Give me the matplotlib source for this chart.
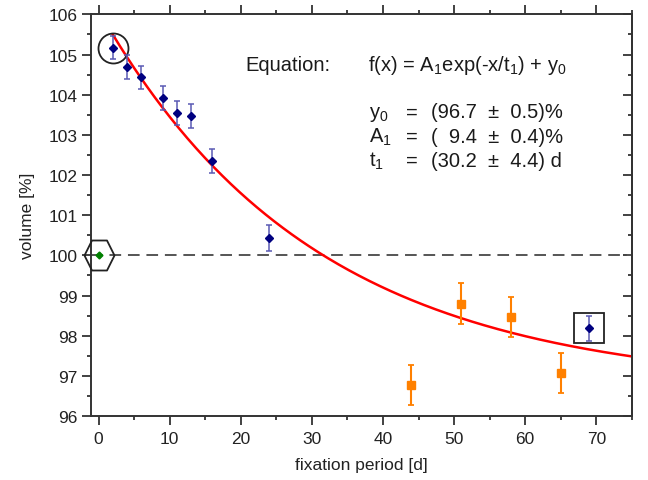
import numpy as np
import matplotlib
matplotlib.use("Agg")
import matplotlib.pyplot as plt
from matplotlib.ticker import MultipleLocator

plt.rcParams['font.family'] = ['Liberation Sans', 'DejaVu Sans']
plt.rcParams['mathtext.default'] = 'regular'

# measured volumes (blue diamonds)
days_blue = [2, 4, 6, 9, 11, 13, 16, 24, 69]
vol_blue = [105.17, 104.69, 104.43, 103.92, 103.54, 103.48, 102.35, 100.43, 98.18]
err_blue = [0.29, 0.30, 0.29, 0.30, 0.30, 0.30, 0.31, 0.32, 0.31]

# orange squares
days_orange = [44, 51, 58, 65]
vol_orange = [96.78, 98.80, 98.47, 97.07]
err_orange = [0.50, 0.50, 0.50, 0.50]

# reference point
day_ref = [0]
vol_ref = [100.0]

# fit parameters f(x) = A1*exp(-x/t1) + y0
y0, A1, t1 = 96.7, 9.4, 30.2

W, H = 648, 481
fig = plt.figure(figsize=(W / 100, H / 100), dpi=100)
ax = fig.add_axes([0.1404, 0.133, 0.8346, 0.835])

ax.axhline(100, color='#555555', lw=1.4, ls=(0, (6, 3.5)), zorder=1)

xf = np.linspace(2, 75, 300)
ax.plot(xf, A1 * np.exp(-xf / t1) + y0, color='#ff0000', lw=1.8, zorder=2)

ax.errorbar(days_blue, vol_blue, yerr=err_blue, fmt='D', color='#000080',
            ms=4, ecolor='#5a5ab4', elinewidth=1.1, capsize=2.2, capthick=1.1, zorder=4)
ax.errorbar(days_orange, vol_orange, yerr=err_orange, fmt='s', color='#ff8000',
            ms=5.4, ecolor='#ff8000', elinewidth=1.5, capsize=2.5, capthick=1.3, zorder=4)
ax.plot(day_ref, vol_ref, 'D', color='#008000', ms=3.5, zorder=5, clip_on=False)

# highlight marks around selected points
hexv = [(-1, 0), (-0.5, 1), (0.5, 1), (1, 0), (0.5, -1), (-0.5, -1), (-1, 0)]
ax.plot(day_ref, vol_ref, marker=hexv, ms=21.6, mfc='none', mec='#222222', mew=1.3,
        ls='none', clip_on=False, zorder=5)
ax.plot(days_blue[0], vol_blue[0], marker='o', ms=21.6, mfc='none', mec='#222222', mew=1.3)
ax.plot(days_blue[-1], vol_blue[-1], marker='s', ms=21.4, mfc='none', mec='#222222', mew=1.3)

ax.set_xlim(-1.07, 75)
ax.set_ylim(96, 106)
ax.xaxis.set_major_locator(MultipleLocator(10))
ax.xaxis.set_minor_locator(MultipleLocator(5))
ax.yaxis.set_major_locator(MultipleLocator(1))
ax.yaxis.set_minor_locator(MultipleLocator(0.5))

for s in ax.spines.values():
    s.set_color('#333333')
    s.set_linewidth(1.4)

ax.tick_params(axis='x', which='both', direction='out', top=True, colors='#333333',
               labelcolor='#222222', labelsize=12.5, width=1.3, pad=4.5)
ax.tick_params(axis='y', which='both', direction='out', colors='#333333',
               labelcolor='#222222', labelsize=12.5, width=1.3, pad=3)
ax.tick_params(which='major', length=6.5)
ax.tick_params(which='minor', length=3)

sec = ax.secondary_yaxis('right')
sec.yaxis.set_major_locator(MultipleLocator(1))
sec.yaxis.set_minor_locator(MultipleLocator(0.5))
sec.tick_params(which='both', direction='in', labelright=False, colors='#333333', width=1.3)
sec.tick_params(which='major', length=6.5)
sec.tick_params(which='minor', length=3)
sec.spines['right'].set_color('#333333')
sec.spines['right'].set_linewidth(1.4)

ax.set_xlabel('fixation period [d]', fontsize=12.5, color='#222222', labelpad=8)
ax.set_ylabel('volume [%]', fontsize=12.5, color='#222222', labelpad=10)

# equation box text, placed in figure pixels (x, baseline y from top)
fs = 14.5
tc = '#1a1a1a'


def put(px, py, s):
    fig.text(px / W, 1 - py / H, s, fontsize=fs, color=tc, va='baseline')


put(245, 71, 'Equation:')
put(368, 71, 'f(x) = A$_1$exp(-x/t$_1$) + y$_0$')
rows = [('y$_0$', '(96.7  \u00b1  0.5)%', 118.5),
        ('A$_1$', '(  9.4  \u00b1  0.4)%', 143),
        ('t$_1$', '(30.2  \u00b1  4.4) d', 167)]
for sym, val, yy in rows:
    put(369, yy, sym)
    put(406, yy, '=')
    put(431, yy, val)

fig.savefig('out.png', dpi=100)
